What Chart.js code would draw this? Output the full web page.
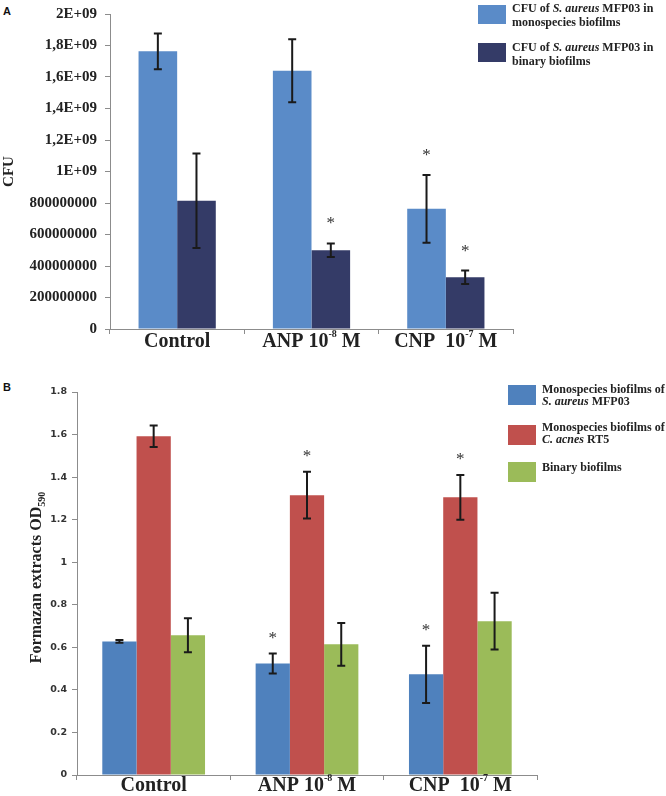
<!DOCTYPE html>
<html>
<head>
<meta charset="utf-8">
<script src="https://cdn.jsdelivr.net/npm/chart.js@4"></script>
<style>
body{margin:0;background:#fff;width:666px;height:796px;position:relative;overflow:hidden;}
.wrap{position:absolute;left:0;}
.panel{position:absolute;font:bold 11px "Liberation Sans",Arial,sans-serif;color:#111;}
.leg{position:absolute;font:bold 12px "Liberation Serif","Times New Roman",serif;color:#222;}
.sw{position:absolute;width:28px;}
.txt{position:absolute;white-space:nowrap;}
</style>
</head>
<body>

<div class="panel" style="left:3px;top:5px;">A</div>
<div class="panel" style="left:3px;top:381px;">B</div>

<div class="wrap" style="top:0;"><canvas id="chartA" width="666" height="360"></canvas></div>
<div class="wrap" style="top:370px;"><canvas id="chartB" width="666" height="426"></canvas></div>

<div id="legendA" class="leg" style="left:478px;top:0;"></div>
<div id="legendB" class="leg" style="left:508px;top:370px;"></div>

<script>

// categories (x labels are "main" + superscript + tail)
const catMain = ["Control", "ANP 10", "CNP  10"];
const catSup = ["", "-8", "-7"];
const catTail = ["", " M", " M"];

// panel A : CFU
const yTicksA = ["0","200000000","400000000","600000000","800000000","1E+09","1,2E+09","1,4E+09","1,6E+09","1,8E+09","2E+09"];
const monoA = [1.763e9, 1.639e9, 0.763e9];
const monoAErr = [0.113e9, 0.200e9, 0.215e9];
const monoAStar = [false, false, true];
const binaryA = [0.815e9, 0.500e9, 0.328e9];
const binaryAErr = [0.300e9, 0.043e9, 0.043e9];
const binaryAStar = [false, true, true];
const legendLabelsA = ["CFU of S. aureus MFP03 in\nmonospecies biofilms", "CFU of S. aureus MFP03 in\nbinary biofilms"];
const colorsA = ["#5a8bc8", "#343b67"];

// panel B : formazan OD590
const saureusB = [0.628, 0.524, 0.473];
const saureusBErr = [0.006, 0.047, 0.135];
const saureusBStar = [false, true, true];
const cacnesB = [1.592, 1.315, 1.305];
const cacnesBErr = [0.050, 0.110, 0.105];
const cacnesBStar = [false, true, true];
const binaryB = [0.657, 0.614, 0.723];
const binaryBErr = [0.080, 0.100, 0.133];
const binaryBStar = [false, false, false];
const legendLabelsB = ["Monospecies biofilms of\nS. aureus MFP03", "Monospecies biofilms of\nC. acnes RT5", "Binary biofilms"];
const colorsB = ["#4f81bd", "#c0504d", "#9bbb59"];

const italicTerms = ["S. aureus", "C. acnes"];

const labels = catMain.map((m, i) => m + catSup[i] + catTail[i]);
const serif = '"Liberation Serif","Times New Roman",serif';

// error bars + significance stars
const errorBars = {
    id: "errorBars",
    afterDatasetsDraw(chart, args, o){
        const ctx = chart.ctx;
        const y = chart.scales.y;
        chart.data.datasets.forEach((ds, di) => {
            const meta = chart.getDatasetMeta(di);
            meta.data.forEach((bar, i) => {
                const top = y.getPixelForValue(ds.data[i] + ds.errors[i]);
                const bot = y.getPixelForValue(ds.data[i] - ds.errors[i]);
                ctx.save();
                ctx.strokeStyle = "#1a1a1a";
                ctx.lineWidth = 2;
                ctx.beginPath();
                ctx.moveTo(bar.x, top); ctx.lineTo(bar.x, bot);
                ctx.moveTo(bar.x - o.cap, top); ctx.lineTo(bar.x + o.cap, top);
                ctx.moveTo(bar.x - o.cap, bot); ctx.lineTo(bar.x + o.cap, bot);
                ctx.stroke();
                if(ds.stars[i]){
                    ctx.fillStyle = "#333";
                    ctx.font = "17px " + serif;
                    ctx.textAlign = "center";
                    ctx.textBaseline = "alphabetic";
                    ctx.fillText("*", bar.x, top - o.starGap);
                }
                ctx.restore();
            });
        });
    }
};

// x labels with superscript exponents
const xLabels = {
    id: "xLabels",
    afterDraw(chart, args, o){
        const ctx = chart.ctx;
        const xs = chart.scales.x;
        const y = chart.chartArea.bottom + o.offset;
        const mainFont = "bold 20px " + serif;
        const supFont = "bold 10px " + serif;
        ctx.save();
        ctx.fillStyle = "#222";
        ctx.textBaseline = "middle";
        ctx.textAlign = "left";
        catMain.forEach((m, i) => {
            ctx.font = mainFont;
            const w1 = ctx.measureText(m).width;
            const w3 = ctx.measureText(catTail[i]).width;
            ctx.font = supFont;
            const w2 = ctx.measureText(catSup[i]).width;
            let x = xs.getPixelForTick(i) - (w1 + w2 + w3) / 2;
            ctx.font = mainFont;
            ctx.fillText(m, x, y);
            ctx.font = supFont;
            ctx.fillText(catSup[i], x + w1, y + o.supShift);
            ctx.font = mainFont;
            ctx.fillText(catTail[i], x + w1 + w2, y);
        });
        ctx.restore();
    }
};

// rotated y title, optional subscript
const yTitle = {
    id: "yTitle",
    afterDraw(chart, args, o){
        const ctx = chart.ctx;
        const a = chart.chartArea;
        const mainFont = "bold " + o.size + "px " + serif;
        const subFont = "bold " + o.subSize + "px " + serif;
        ctx.save();
        ctx.translate(o.x, (a.top + a.bottom) / 2 + o.shift);
        ctx.rotate(-Math.PI / 2);
        ctx.fillStyle = "#222";
        ctx.textBaseline = "middle";
        ctx.textAlign = "left";
        ctx.font = mainFont;
        const w1 = ctx.measureText(o.text).width;
        ctx.font = subFont;
        const w2 = o.sub ? ctx.measureText(o.sub).width : 0;
        const x0 = -(w1 + w2) / 2;
        ctx.font = mainFont;
        ctx.fillText(o.text, x0, 0);
        if(o.sub){
            ctx.font = subFont;
            ctx.fillText(o.sub, x0 + w1, 5);
        }
        ctx.restore();
    }
};

function axisX(height){
    return {
        grid: { display: true, drawOnChartArea: false, tickLength: 5, color: "#8c8c8c" },
        border: { color: "#8c8c8c" },
        ticks: { display: false },
        afterFit: s => { s.height = height; }
    };
}

new Chart(document.getElementById("chartA"), {
    type: "bar",
    data: {
        labels,
        datasets: [
            { label: legendLabelsA[0], data: monoA, errors: monoAErr, stars: monoAStar,
              backgroundColor: colorsA[0], categoryPercentage: 0.575, barPercentage: 1 },
            { label: legendLabelsA[1], data: binaryA, errors: binaryAErr, stars: binaryAStar,
              backgroundColor: colorsA[1], categoryPercentage: 0.575, barPercentage: 1 }
        ]
    },
    options: {
        responsive: false,
        animation: false,
        layout: { padding: { left: 0, right: 153, top: 6, bottom: 0 } },
        plugins: {
            legend: { display: false },
            tooltip: { enabled: false },
            errorBars: { cap: 4, starGap: 15 },
            xLabels: { offset: 13, supShift: -8 },
            yTitle: { text: "CFU", sub: "", x: 9, size: 15, subSize: 10, shift: 0 }
        },
        scales: {
            x: axisX(31),
            y: {
                min: 0, max: 2e9,
                ticks: {
                    stepSize: 2e8, padding: 8, color: "#222",
                    font: { family: serif, weight: "bold", size: 15, lineHeight: 0.8 },
                    callback: (v, i) => yTicksA[i]
                },
                grid: { drawOnChartArea: false, tickLength: 5, color: "#8c8c8c" },
                border: { color: "#8c8c8c" },
                afterFit: s => { s.width = 110; }
            }
        }
    },
    plugins: [errorBars, xLabels, yTitle]
});

new Chart(document.getElementById("chartB"), {
    type: "bar",
    data: {
        labels,
        datasets: [
            { label: legendLabelsB[0], data: saureusB, errors: saureusBErr, stars: saureusBStar,
              backgroundColor: colorsB[0], categoryPercentage: 0.67, barPercentage: 1 },
            { label: legendLabelsB[1], data: cacnesB, errors: cacnesBErr, stars: cacnesBStar,
              backgroundColor: colorsB[1], categoryPercentage: 0.67, barPercentage: 1 },
            { label: legendLabelsB[2], data: binaryB, errors: binaryBErr, stars: binaryBStar,
              backgroundColor: colorsB[2], categoryPercentage: 0.67, barPercentage: 1 }
        ]
    },
    options: {
        responsive: false,
        animation: false,
        layout: { padding: { left: 0, right: 129, top: 22, bottom: 0 } },
        plugins: {
            legend: { display: false },
            tooltip: { enabled: false },
            errorBars: { cap: 4, starGap: 11 },
            xLabels: { offset: 11, supShift: -8 },
            yTitle: { text: "Formazan extracts OD", sub: "590", x: 37, size: 16, subSize: 10, shift: -6 }
        },
        scales: {
            x: axisX(21),
            y: {
                min: 0, max: 1.8,
                ticks: {
                    stepSize: 0.2, padding: 5, color: "#333",
                    font: { family: '"DejaVu Sans",sans-serif', weight: "bold", size: 9.5 },
                    callback: v => Math.round(v * 10) / 10
                },
                grid: { drawOnChartArea: false, tickLength: 5, color: "#8c8c8c" },
                border: { color: "#8c8c8c" },
                afterFit: s => { s.width = 77; }
            }
        }
    },
    plugins: [errorBars, xLabels, yTitle]
});

// html legends (mixed italic text)
function fmt(label){
    let h = label;
    italicTerms.forEach(t => { h = h.split(t).join("<i>" + t + "</i>"); });
    return h.replace("\n", "<br>");
}

function buildLegend(id, labels, colors, swatchTops, textTops, swH, lineH){
    const el = document.getElementById(id);
    labels.forEach((lab, i) => {
        const sw = document.createElement("div");
        sw.className = "sw";
        sw.style.cssText = `left:0;top:${swatchTops[i]}px;height:${swH}px;background:${colors[i]};`;
        el.appendChild(sw);
        const tx = document.createElement("div");
        tx.className = "txt";
        tx.style.cssText = `left:34px;top:${textTops[i]}px;line-height:${lineH}px;`;
        tx.innerHTML = fmt(lab);
        el.appendChild(tx);
    });
}

buildLegend("legendA", legendLabelsA, colorsA, [5, 43], [1, 40], 19, 14);
buildLegend("legendB", legendLabelsB, colorsB, [15, 55, 92], [14, 52, 92], 20, 11.5);

</script>
</body>
</html>
